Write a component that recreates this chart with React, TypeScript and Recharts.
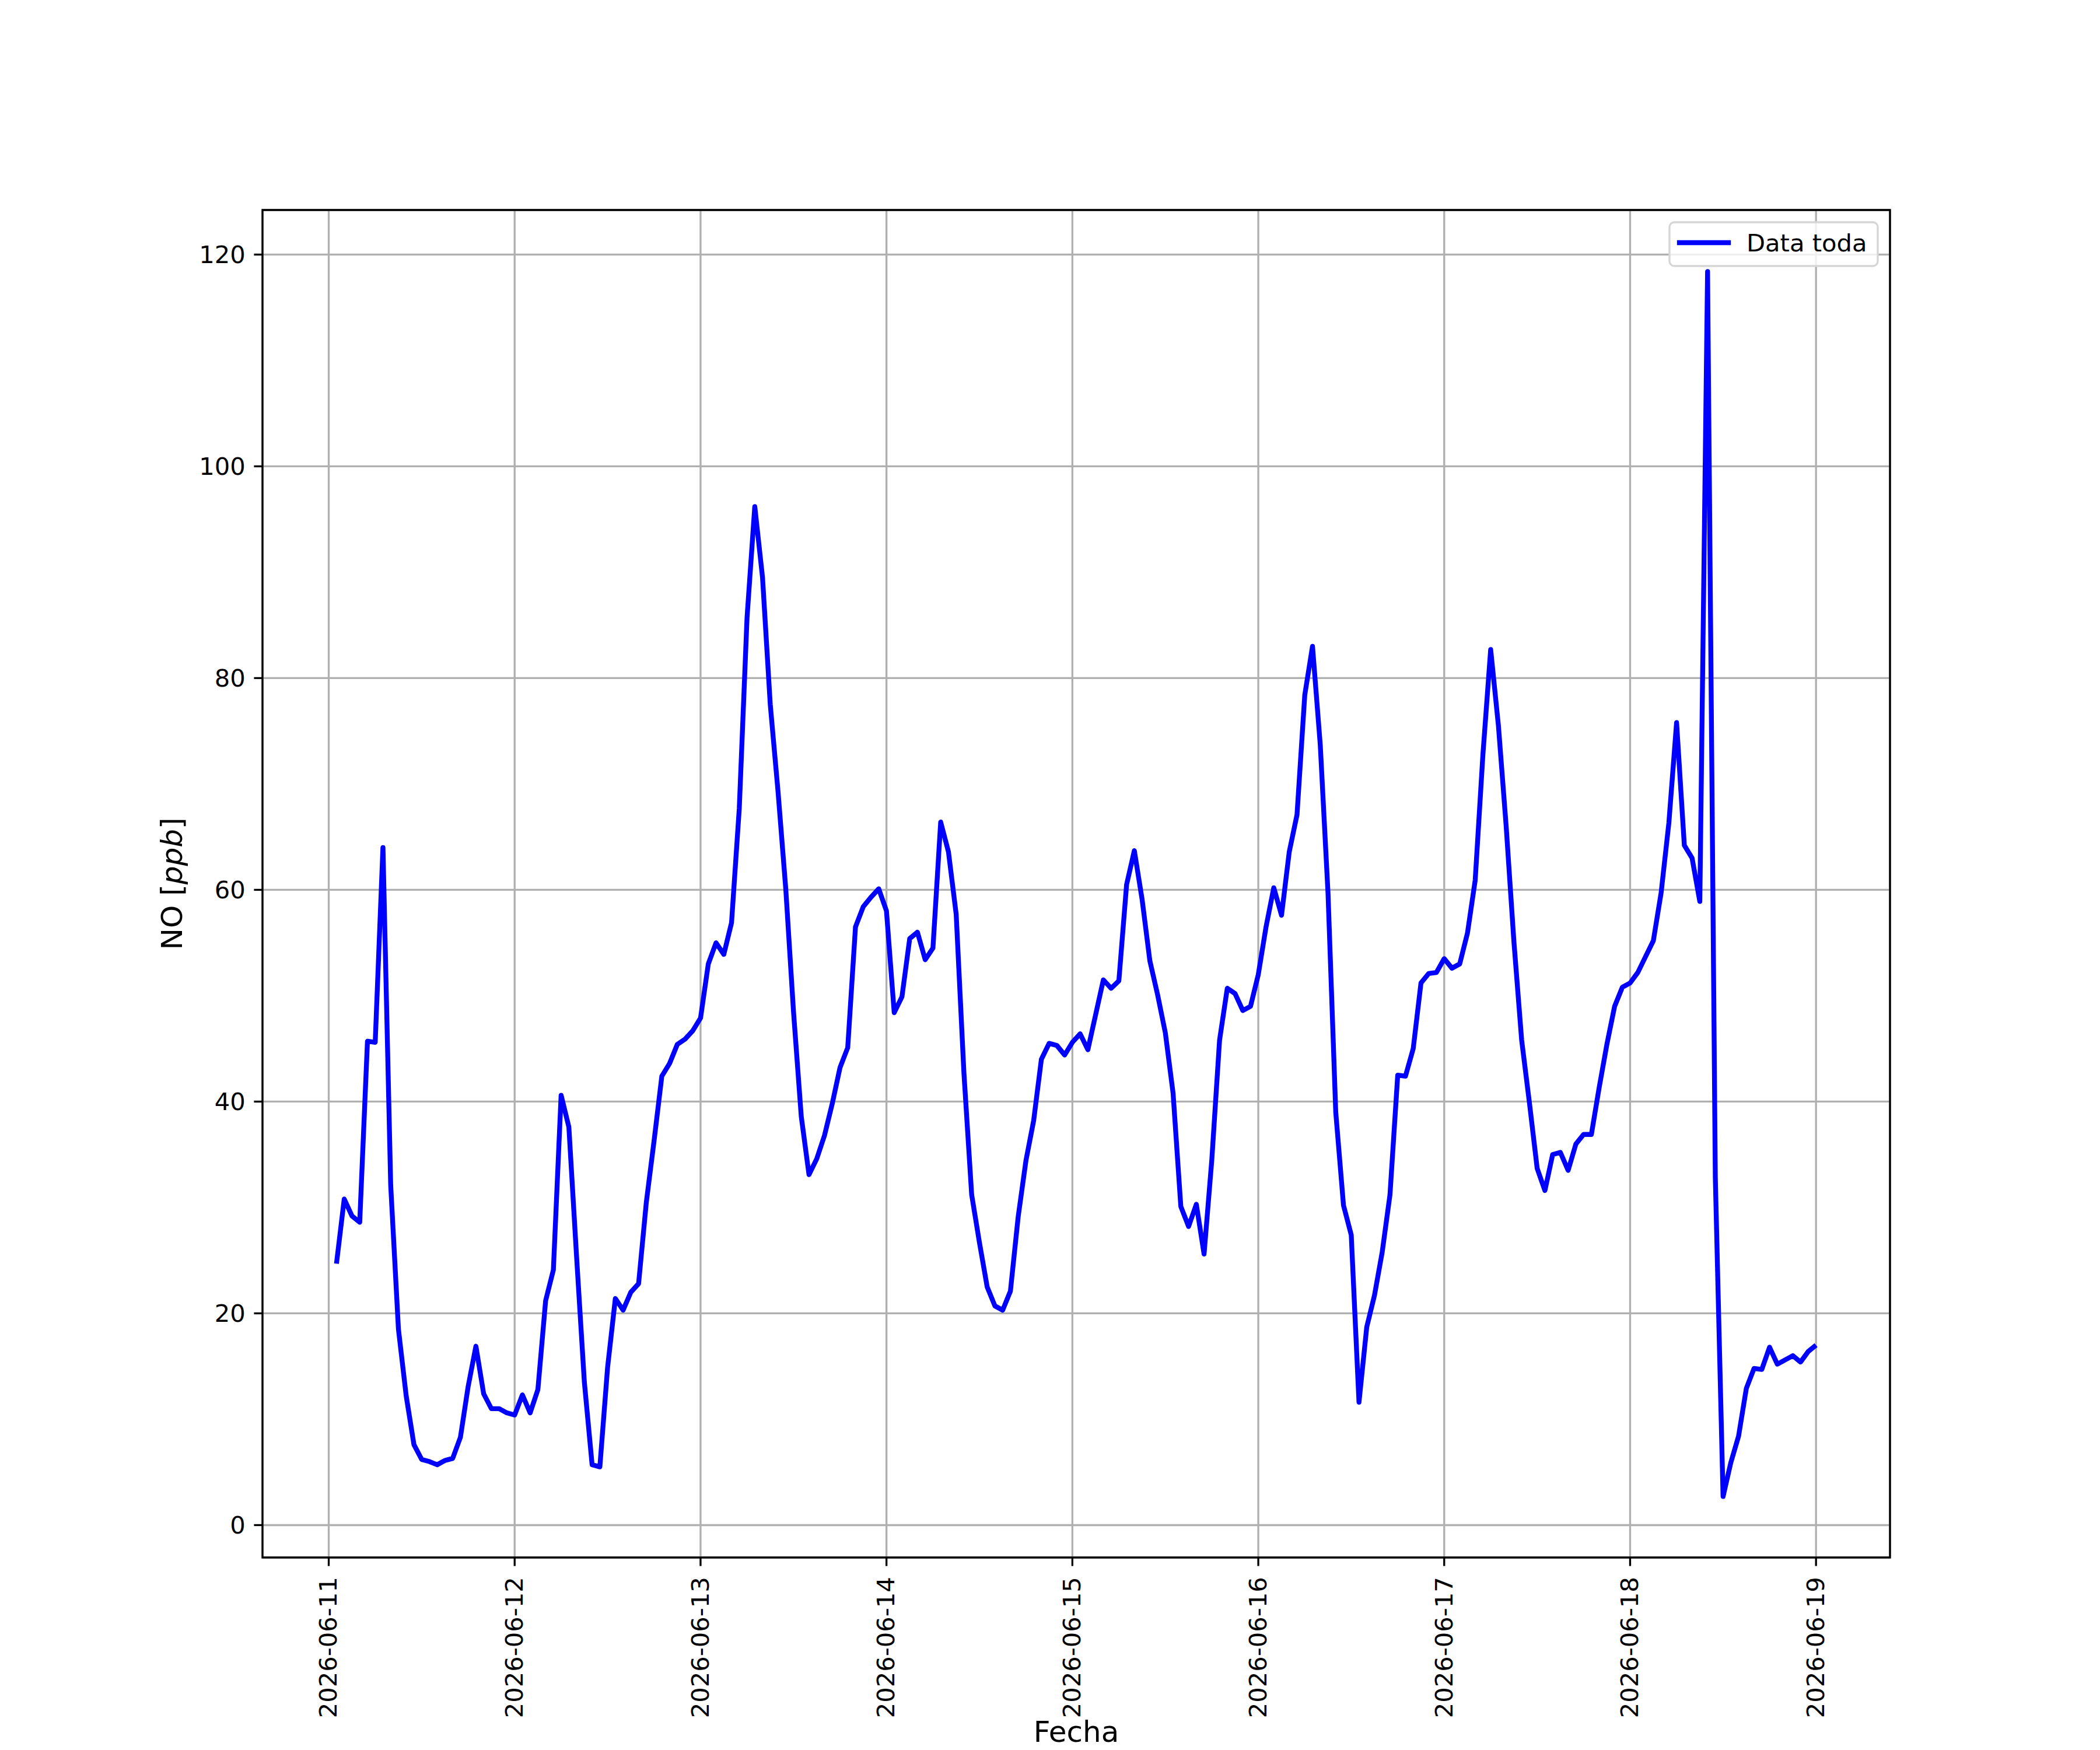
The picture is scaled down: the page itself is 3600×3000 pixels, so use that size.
// ── NO hourly series, 2026-06-11 → 2026-06-19 (matplotlib look) ─────────────

import { LineChart, Line, XAxis, YAxis, CartesianGrid, ReferenceArea } from 'recharts'

// hourly NO [ppb]; first value is 06-11 01:00, last is 06-19 00:00
const DAY_0611 = [24.7, 30.8, 29.2, 28.6, 45.7, 45.6, 64.0, 32.1, 18.5, 12.2, 7.6, 6.2,
                  6.0, 5.7, 6.1, 6.3, 8.3, 13.1, 16.9, 12.4, 11.0, 11.0, 10.6, 10.4]
const DAY_0612 = [12.3, 10.6, 12.8, 21.2, 24.1, 40.6, 37.6, 25.3, 13.5, 5.7, 5.5, 14.9,
                  21.4, 20.3, 22.0, 22.8, 30.5, 36.3, 42.4, 43.6, 45.4, 45.9, 46.7, 47.9]
const DAY_0613 = [53.0, 55.0, 53.9, 56.9, 67.7, 85.7, 96.2, 89.5, 77.5, 69.3, 60.1, 48.5,
                  38.6, 33.1, 34.6, 36.8, 39.8, 43.2, 45.1, 56.5, 58.4, 59.3, 60.1, 58.0]
const DAY_0614 = [48.4, 49.9, 55.4, 56.0, 53.4, 54.5, 66.4, 63.6, 57.7, 42.7, 31.2, 26.7,
                  22.5, 20.7, 20.3, 22.1, 29.1, 34.4, 38.2, 44.0, 45.5, 45.3, 44.4, 45.6]
const DAY_0615 = [46.4, 44.9, 48.2, 51.5, 50.7, 51.4, 60.5, 63.7, 59.1, 53.3, 50.1, 46.5,
                  40.8, 30.1, 28.2, 30.3, 25.6, 34.5, 45.8, 50.7, 50.2, 48.6, 49.0, 52.0]
const DAY_0616 = [56.5, 60.2, 57.6, 63.6, 67.1, 78.4, 83.0, 73.7, 59.7, 39.0, 30.2, 27.4,
                  11.6, 18.7, 21.7, 25.8, 31.2, 42.5, 42.4, 45.0, 51.2, 52.1, 52.2, 53.5]
const DAY_0617 = [52.6, 53.0, 55.9, 60.9, 72.8, 82.7, 75.5, 66.0, 55.1, 45.8, 39.9, 33.7,
                  31.6, 35.0, 35.2, 33.5, 36.0, 36.9, 36.9, 41.3, 45.4, 49.0, 50.8, 51.2]
const DAY_0618 = [52.2, 53.7, 55.2, 59.7, 66.3, 75.8, 64.2, 63.0, 58.9, 118.4, 32.8, 2.7,
                  5.9, 8.4, 12.9, 14.8, 14.7, 16.8, 15.2, 15.6, 16.0, 15.4, 16.4, 17.0]

const X_TICKS       = [0, 24, 48, 72, 96, 120, 144, 168, 192]
const X_TICK_LABELS = ['2026-06-11', '2026-06-12', '2026-06-13', '2026-06-14', '2026-06-15',
                       '2026-06-16', '2026-06-17', '2026-06-18', '2026-06-19']
const Y_TICKS       = [0, 20, 40, 60, 80, 100, 120]

const X_DOMAIN: [number, number] = [-8.55, 201.55]
const Y_DOMAIN: [number, number] = [-3.06, 124.21]

// ── layout (px, 300 dpi figure) ─────────────────────────────────────────────
const W = 3600
const H = 3000
const PLOT = { left: 450, right: 3240, top: 360, bottom: 2670 }
const FONT = '"DejaVu Sans", sans-serif'
const TICK_FS = 41.67
const LABEL_FS = 50
const PT = 300 / 72

const data = [...DAY_0611, ...DAY_0612, ...DAY_0613, ...DAY_0614,
              ...DAY_0615, ...DAY_0616, ...DAY_0617, ...DAY_0618]
  .map((v, i) => ({ hour: i + 1, no: v }))

function XTick({ x, y, payload }: { x: number; y: number; payload: { value: number } }) {
  const label = X_TICK_LABELS[X_TICKS.indexOf(payload.value)] ?? ''
  return (
    <text transform={`translate(${x},${y + 4}) rotate(-90)`} textAnchor="end" dy="0.33em"
          fontFamily={FONT} fontSize={TICK_FS} fill="#000">
      {label}
    </text>
  )
}

function YLabel() {
  return (
    <text transform={`translate(312,${(PLOT.top + PLOT.bottom) / 2}) rotate(-90)`} textAnchor="middle"
          fontFamily={FONT} fontSize={LABEL_FS} fill="#000">
      NO [<tspan fontStyle="italic">ppb</tspan>]
    </text>
  )
}

// sits right at the bottom edge, as in the original figure
function XLabel() {
  return (
    <text x={(PLOT.left + PLOT.right) / 2} y={2986} textAnchor="middle"
          fontFamily={FONT} fontSize={LABEL_FS} fill="#000">
      Fecha
    </text>
  )
}

function LegendBox() {
  return (
    <svg width={W} height={H} style={{ position: 'absolute', left: 0, top: 0, pointerEvents: 'none' }}>
      <rect x={2862} y={381} width={357} height={75} rx={8.3} ry={8.3}
            fill="rgba(255,255,255,0.8)" stroke="#d6d6d6" strokeWidth={0.8 * PT} />
      <line x1={2879} x2={2963} y1={416} y2={416} stroke="#0000ff" strokeWidth={2 * PT} strokeLinecap="square" />
      <text x={2994} y={431} fontFamily={FONT} fontSize={TICK_FS} fill="#000">Data toda</text>
    </svg>
  )
}

export default function App() {
  return (
    <div style={{ position: 'absolute', left: 0, top: 0, width: W, height: H, background: '#fff' }}>
      <LineChart width={W} height={H} data={data}
                 margin={{ top: PLOT.top, right: W - PLOT.right, left: PLOT.left - 150, bottom: H - PLOT.bottom - 300 }}>
        <CartesianGrid stroke="#b0b0b0" strokeWidth={0.8 * PT} />
        <XAxis dataKey="hour" type="number" domain={X_DOMAIN} ticks={X_TICKS} interval={0} allowDataOverflow
               height={300} axisLine={false} tickSize={3.5 * PT} tickMargin={3.5 * PT}
               tickLine={{ stroke: '#000', strokeWidth: 0.8 * PT }} tick={XTick as any}
               label={<XLabel />} />
        <YAxis type="number" domain={Y_DOMAIN} ticks={Y_TICKS} interval={0} allowDataOverflow
               width={150} axisLine={false} tickSize={3.5 * PT} tickMargin={3.5 * PT}
               tickLine={{ stroke: '#000', strokeWidth: 0.8 * PT }}
               tick={{ fill: '#000', fontSize: TICK_FS, fontFamily: FONT }}
               label={<YLabel />} />
        <Line type="linear" dataKey="no" stroke="#0000ff" strokeWidth={2 * PT} dot={false} activeDot={false}
              strokeLinejoin="round" isAnimationActive={false} />
        <ReferenceArea x1={X_DOMAIN[0]} x2={X_DOMAIN[1]} y1={Y_DOMAIN[0]} y2={Y_DOMAIN[1]}
                       fill="none" stroke="#000" strokeWidth={0.8 * PT} ifOverflow="visible" />
      </LineChart>
      <LegendBox />
    </div>
  )
}
